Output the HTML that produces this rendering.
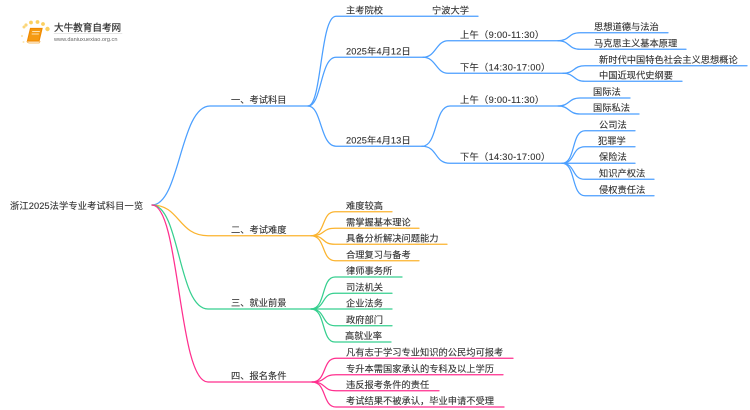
<!DOCTYPE html>
<html lang="zh">
<head>
<meta charset="utf-8">
<style>
html,body{margin:0;padding:0;background:#fff;width:750px;height:410px;overflow:hidden}
svg{display:block}
text{font-family:"Liberation Sans","Noto Sans CJK SC",sans-serif;font-size:9.25px;fill:#333;stroke:#333;stroke-width:.12}
path{fill:none;stroke-width:1.25;stroke-linecap:round}
.b path{stroke:#4b9fff}.o path{stroke:#fbb42f}.g path{stroke:#36cf8f}.p path{stroke:#ff2f8e}
.t{letter-spacing:.28px}
</style>
</head>
<body>
<svg width="750" height="410" viewBox="0 0 750 410" xmlns="http://www.w3.org/2000/svg">
<!-- logo -->
<g>
<circle cx="24" cy="27" r="1.5" fill="#fbd67a"/><circle cx="26" cy="25" r="1.6" fill="#fbd67a"/>
<circle cx="31" cy="22.500" r="1.9" fill="#fbd060"/><circle cx="37.500" cy="22" r="1.9" fill="#fbd060"/>
<circle cx="43" cy="24" r="1.9" fill="#fbd060"/><circle cx="47.500" cy="29" r="2.2" fill="#fbd060"/>
<circle cx="22" cy="36" r="1.1" fill="#fde6b0"/><circle cx="23.500" cy="42" r="1" fill="#fde6b0"/>
<path d="M30.500 28.500 H42 L39 41 H27.500 Z" style="fill:#f59a12;stroke:#f08a00;stroke-width:1.200"/>
<path d="M27 41.500 Q27.500 43 30 43 H39 L40 41.500" style="stroke:#f4b860;stroke-width:1"/>
<path d="M32.500 31.500 H39.500 M32 34 H38.500" style="stroke:#fde2b0;stroke-width:.9"/>
<text x="54" y="31" style="font-size:9.6px;fill:#333;stroke:#333;stroke-width:.2">大牛教育自考网</text>
<path d="M54 33.500 H122" style="stroke:#ddd;stroke-width:.7"/>
<text x="54" y="41" style="font-size:5.6px;fill:#666;stroke:none">www.daniuxuexiao.org.cn</text>
</g>

<text x="10" y="209" style="letter-spacing:.1px">浙江2025法学专业考试科目一览</text>

<g class="b">
<path d="M152 205 C180 205 180 106 210 106 H308"/>
<path d="M308 106 C322 106 320 16.300 336 16.300 H478"/>
<path d="M308 106 C322 106 320 57.300 336 57.300 H423"/>
<path d="M308 106 C322 106 320 146.300 336 146.300 H422"/>
<path d="M423 57.300 C436 57.300 436 40.700 448 40.700 H558"/>
<path d="M423 57.300 C436 57.300 436 73.300 448 73.300 H563"/>
<path d="M558 40.700 C570 40.700 568 32.700 580 32.700 H668"/>
<path d="M558 40.700 C570 40.700 568 49.300 580 49.300 H686"/>
<path d="M563 73.300 C575 73.300 573 65.700 585 65.700 H747"/>
<path d="M563 73.300 C575 73.300 573 81.300 585 81.300 H682"/>
<path d="M422 146.300 C438 146.300 434 106 450 106 H558"/>
<path d="M422 146.300 C438 146.300 434 163.300 450 163.300 H562"/>
<path d="M558 106 C570 106 568 98 580 98 H630"/>
<path d="M558 106 C570 106 568 114 580 114 H639"/>
<path d="M562 163.300 C576 163.300 571 130.700 585 130.700 H635"/>
<path d="M562 163.300 C576 163.300 571 146.700 585 146.700 H635"/>
<path d="M562 163.300 H635"/>
<path d="M562 163.300 C576 163.300 571 179.300 585 179.300 H654"/>
<path d="M562 163.300 C576 163.300 571 195.700 585 195.700 H654"/>
</g>
<g class="o">
<path d="M152 205 C180 205 178 235.700 208 235.700 H311"/>
<path d="M311 235.700 C326 235.700 321 211.700 335 211.700 H392"/>
<path d="M311 235.700 C326 235.700 321 228.300 335 228.300 H419"/>
<path d="M311 235.700 C326 235.700 321 244.300 335 244.300 H447"/>
<path d="M311 235.700 C326 235.700 321 260.700 335 260.700 H419"/>
</g>
<g class="g">
<path d="M152 205 C180 205 178 309 208 309 H311"/>
<path d="M311 309 C326 309 321 277 335 277 H402"/>
<path d="M311 309 C326 309 321 293.300 335 293.300 H392"/>
<path d="M311 309 H392"/>
<path d="M311 309 C326 309 321 325.700 335 325.700 H392"/>
<path d="M311 309 C326 309 321 342 335 342 H391"/>
</g>
<g class="p">
<path d="M152 205 C180 205 178 382 208 382 H312"/>
<path d="M312 382 C327 382 322 358.300 336 358.300 H513"/>
<path d="M312 382 C327 382 322 374.700 336 374.700 H503"/>
<path d="M312 382 C327 382 322 390.700 336 390.700 H439"/>
<path d="M312 382 C327 382 322 407 336 407 H504"/>
</g>

<text x="231" y="103">一、考试科目</text>
<text x="231" y="233">二、考试难度</text>
<text x="231" y="306">三、就业前景</text>
<text x="231" y="379">四、报名条件</text>

<text x="346" y="13.500">主考院校</text>
<text x="432" y="13.500">宁波大学</text>
<text x="346" y="54.500" style="letter-spacing:.1px">2025年4月12日</text>
<text x="346" y="143.500" style="letter-spacing:.1px">2025年4月13日</text>
<text class="t" x="460" y="38">上午（9:00-11:30）</text>
<text class="t" x="460" y="70.500">下午（14:30-17:00）</text>
<text class="t" x="460" y="103">上午（9:00-11:30）</text>
<text class="t" x="460" y="160">下午（14:30-17:00）</text>

<text x="594" y="30">思想道德与法治</text>
<text x="594" y="46.500">马克思主义基本原理</text>
<text x="599" y="63">新时代中国特色社会主义思想概论</text>
<text x="599" y="78.500">中国近现代史纲要</text>
<text x="593" y="95">国际法</text>
<text x="593" y="111">国际私法</text>
<text x="599" y="128">公司法</text>
<text x="598" y="144">犯罪学</text>
<text x="599" y="160">保险法</text>
<text x="599" y="176.500">知识产权法</text>
<text x="599" y="193">侵权责任法</text>

<text x="346" y="209">难度较高</text>
<text x="346" y="225.500">需掌握基本理论</text>
<text x="346" y="241.500">具备分析解决问题能力</text>
<text x="346" y="258">合理复习与备考</text>

<text x="346" y="274">律师事务所</text>
<text x="346" y="290.500">司法机关</text>
<text x="346" y="306.500">企业法务</text>
<text x="346" y="323">政府部门</text>
<text x="345" y="339">高就业率</text>

<text x="346" y="355.500">凡有志于学习专业知识的公民均可报考</text>
<text x="346" y="372">专升本需国家承认的专科及以上学历</text>
<text x="346" y="388">违反报考条件的责任</text>
<text x="346" y="404">考试结果不被承认，毕业申请不受理</text>
</svg>
</body>
</html>
